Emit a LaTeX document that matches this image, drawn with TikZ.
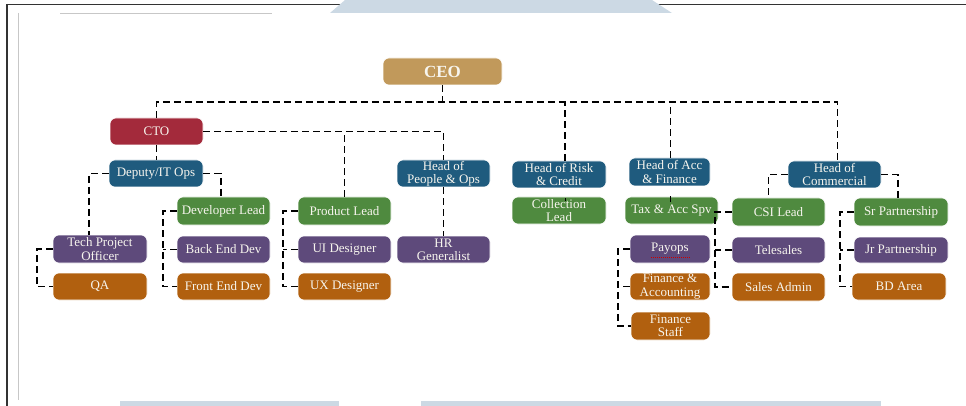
\documentclass[tikz,border=0pt]{standalone}
\usepackage{fontspec}
\setmainfont{Liberation Serif}
\definecolor{ceoc}{HTML}{C1995B}
\definecolor{ctoc}{HTML}{A32A3B}
\definecolor{blu}{HTML}{1F5B7E}
\definecolor{grn}{HTML}{4F8A3F}
\definecolor{pur}{HTML}{5E4A7B}
\definecolor{org}{HTML}{B1600F}
\definecolor{pale}{HTML}{CCD9E4}
\definecolor{txt}{HTML}{F7F5EE}
\begin{document}
\begin{tikzpicture}[x=1pt,y=-1pt,
  box/.style={rounded corners=6pt, text=txt, align=center, inner sep=0pt,
    font=\fontsize{13}{13.2}\selectfont, minimum width=93pt, minimum height=27pt,
    draw=white, line width=0.6pt},
  ceobox/.style={box, fill=ceoc, font=\fontsize{17}{18}\selectfont\bfseries},
  ctobox/.style={box, fill=ctoc},
  bluebox/.style={box, fill=blu},
  greenbox/.style={box, fill=grn},
  purplebox/.style={box, fill=pur},
  orangebox/.style={box, fill=org},
  conn/.style={draw=black, line width=1.6pt, dash pattern=on 7pt off 4pt},
  thinconn/.style={draw=black, line width=0.8pt},
  frameline/.style={draw=black!80, line width=1.5pt},
  faintline/.style={draw=black!22, line width=0.9pt}
]
\useasboundingbox (0,0) rectangle (966,406);
% screenshot frame
\draw[frameline] (7,4.5) -- (966,4.5);
\draw[frameline] (7,4) -- (7,406);
\draw[faintline] (60,13) -- (272,13);
\draw[faintline] (18,13) -- (18,400);
\fill[pale] (345,0) -- (652,0) -- (672,13) -- (330,13) -- cycle;
\fill[pale] (120,401) rectangle (339,406);
\fill[pale] (421,401) rectangle (881,406);

% nodes
\node[ceobox, minimum width=119pt] (ceo) at (442.5,71.5) {CEO};
\node[ctobox] (cto) at (156.5,131.5) {CTO};
\node[bluebox, minimum width=94pt] (deputy) at (156,173.5) {Deputy/IT Ops};
\node[purplebox, minimum width=94pt, minimum height=28pt] (tpo) at (100,249) {Tech Project\\Officer};
\node[orangebox, minimum width=94pt] (qa) at (100,286.5) {QA};
\node[greenbox, minimum height=28pt] (devlead) at (223.5,211) {Developer Lead};
\node[purplebox] (backend) at (223.5,249.5) {Back End Dev};
\node[orangebox] (frontend) at (223.5,286.5) {Front End Dev};
\node[greenbox, minimum height=28pt] (prodlead) at (344.5,211) {Product Lead};
\node[purplebox] (ui) at (344.5,249.5) {UI Designer};
\node[orangebox] (ux) at (344.5,286.5) {UX Designer};
\node[bluebox] (hpo) at (443.5,173.5) {Head of\\People \& Ops};
\node[purplebox] (hr) at (443.5,249.5) {HR\\Generalist};
\node[bluebox, minimum width=94pt] (hrc) at (559,174.5) {Head of Risk\\\& Credit};
\node[greenbox, minimum width=94pt] (coll) at (559,210.5) {Collection\\Lead};
\node[bluebox, minimum width=81pt, minimum height=28pt] (hacc) at (669.5,172) {Head of Acc\\\& Finance};
\node[greenbox] (tax) at (671.5,210.5) {Tax \& Acc Spv};
\node[purplebox, minimum width=80pt, minimum height=28pt] (payops) at (670,249) {Payops};
\node[orangebox, minimum width=80pt] (finacc) at (670,286.5) {Finance \&\\Accounting};
\node[orangebox, minimum width=79pt, minimum height=28pt] (finstaff) at (670.5,326) {Finance\\Staff};
\node[greenbox, minimum height=28pt] (csi) at (778.5,212) {CSI Lead};
\node[purplebox, minimum height=26pt] (tele) at (778.5,250) {Telesales};
\node[orangebox, minimum height=28pt] (sales) at (778.5,287) {Sales Admin};
\node[bluebox] (hcom) at (834.5,174.5) {Head of\\Commercial};
\node[greenbox, minimum width=94pt, minimum height=28pt] (sr) at (901,212) {Sr Partnership};
\node[purplebox, minimum width=94pt, minimum height=26pt] (jr) at (901,250) {Jr Partnership};
\node[orangebox, minimum width=94pt] (bd) at (899,286.5) {BD Area};

% spell-check mark under Payops
\draw[red!80!black, line width=0.6pt, dash pattern=on 1.2pt off 0.8pt] (651,257) -- (690,257);

% connectors
\coordinate (bus) at (0,102);
\draw[conn] (ceo.south) -- (ceo.south |- bus);
\draw[conn] (cto.north) -- (cto.north |- bus) -- ([xshift=3pt]hcom.north |- bus) -- ([xshift=3pt]hcom.north);
\draw[conn] ([xshift=6pt]hrc.north) -- ([xshift=6pt]hrc.north |- bus);
\draw[conn] ([xshift=1pt]hacc.north) -- ([xshift=1pt]hacc.north |- bus);

\draw[conn] (cto.east) -- (cto.east -| hpo.north) -- (hpo.north);
\draw[conn] (prodlead.north) -- (prodlead.north |- cto.east);
\draw[conn] (cto.south) -- (deputy.north -| cto.south);
\draw[conn] (deputy.west) -- ([xshift=-11pt]tpo.north |- deputy.west) -- ([xshift=-11pt]tpo.north);
\draw[conn] (deputy.east) -- ([xshift=-2.5pt]devlead.north |- deputy.east) -- ([xshift=-2.5pt]devlead.north);
\draw[conn] (hpo.south) -- (hr.north);

\draw[conn] (tpo.west) -- ++(-16,0) |- (qa.west);
\draw[conn] (devlead.west) -- ++(-14,0) |- (frontend.west);
\draw[conn] (backend.west) -- ++(-14,0);
\draw[conn] (prodlead.west) -- ++(-15,0) |- (ux.west);
\draw[conn] (ui.west) -- ++(-15,0);

\draw[thinconn] ([xshift=6pt,yshift=-10pt]hrc.south) -- ([xshift=6pt,yshift=-4pt]coll.north);
\draw[thinconn] ([xshift=1pt,yshift=-10pt]hacc.south) -- ([xshift=-1pt,yshift=-5pt]tax.north);

\draw[conn] (payops.west) -- ++(-12,0) |- (finstaff.west);
\draw[conn] (finacc.west) -- ++(-12,0);
\draw[conn] (csi.west) -- ++(-17,0) |- (sales.west);
\draw[conn] (tele.west) -- ++(-17,0);
\draw[conn] (hcom.west) -- ([xshift=-10pt]csi.north |- hcom.west) -- ([xshift=-10pt]csi.north);
\draw[conn] (hcom.east) -- ([xshift=-3pt]sr.north |- hcom.east) -- ([xshift=-3pt]sr.north);
\draw[conn] (sr.west) -- ++(-14,0) |- (bd.west);
\draw[conn] (jr.west) -- ++(-14,0);
\end{tikzpicture}
\end{document}
